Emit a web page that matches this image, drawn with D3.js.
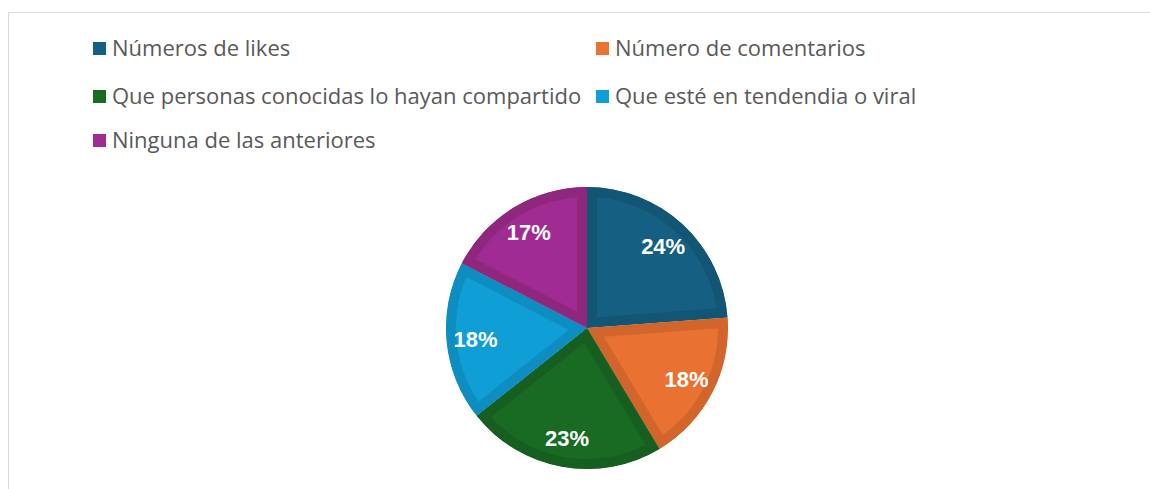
<!DOCTYPE html>
<html>
<head>
<meta charset="utf-8">
<script src="https://cdn.jsdelivr.net/npm/d3@7.9.0/dist/d3.min.js"></script>
<style>
  body { margin: 0; background: #fff; }
  svg { display: block; }
</style>
</head>
<body>
<div id="chart"></div>
<script>
// categories + values (percent share)
const categories = [
  "Números de likes",
  "Número de comentarios",
  "Que personas conocidas lo hayan compartido",
  "Que esté en tendendia o viral",
  "Ninguna de las anteriores",
];
const values = [23.8, 17.6, 22.9, 18.3, 17.4];
const fills = ["#156082", "#E97132", "#196B24", "#0F9ED5", "#A02B93"];
const edges = ["#135574", "#D2652C", "#175F20", "#0E8EC0", "#90277F"];

const width = 1150;
const height = 489;
const cx = 587, cy = 328, radius = 141;

const svg = d3.select("#chart").append("svg")
  .attr("width", width)
  .attr("height", height);

// chart area frame (only left + top visible)
svg.append("rect")
  .attr("x", 8.5).attr("y", 12.5)
  .attr("width", 1200).attr("height", 600)
  .attr("fill", "none")
  .attr("stroke", "#d9d9d9");

// ---- legend ----
const legendPos = [
  { x: 93, y: 47 }, { x: 596, y: 47 },
  { x: 93, y: 95 }, { x: 596, y: 95 },
  { x: 93, y: 139 },
];
const legend = svg.append("g").attr("class", "legend")
  .selectAll("g")
  .data(categories)
  .join("g")
  .attr("transform", (d, i) => `translate(${legendPos[i].x},${legendPos[i].y})`);

legend.append("rect")
  .attr("x", 0).attr("y", -5)
  .attr("width", 13).attr("height", 13)
  .attr("fill", (d, i) => fills[i]);

legend.append("text")
  .attr("x", 19).attr("y", 1)
  .attr("dy", "0.35em")
  .attr("font-family", "Open Sans, sans-serif")
  .attr("font-size", 22)
  .attr("fill", "#595959")
  .text((d) => d);

// ---- pie ----
const pie = d3.pie().sort(null).value((d) => d)(values);
const arc = d3.arc().innerRadius(0).outerRadius(radius);
const labelArc = d3.arc().innerRadius(112).outerRadius(112);

const defs = svg.append("defs");
defs.selectAll("clipPath")
  .data(pie)
  .join("clipPath")
  .attr("id", (d, i) => `slice-${i}`)
  .append("path")
  .attr("d", arc);

const g = svg.append("g").attr("transform", `translate(${cx},${cy})`);

g.selectAll("path.slice")
  .data(pie)
  .join("path")
  .attr("class", "slice")
  .attr("d", arc)
  .attr("fill", (d, i) => fills[i])
  .attr("stroke", (d, i) => edges[i])
  .attr("stroke-width", 20)
  .attr("stroke-linejoin", "miter")
  .attr("clip-path", (d, i) => `url(#slice-${i})`);

g.selectAll("text.pct")
  .data(pie)
  .join("text")
  .attr("class", "pct")
  .attr("transform", (d) => `translate(${labelArc.centroid(d)})`)
  .attr("text-anchor", "middle")
  .attr("dy", "0.35em")
  .attr("font-family", "Liberation Sans, Arial, sans-serif")
  .attr("font-weight", "bold")
  .attr("font-size", 22)
  .attr("fill", "#fff")
  .text((d) => `${Math.round(d.data)}%`);
</script>
</body>
</html>
